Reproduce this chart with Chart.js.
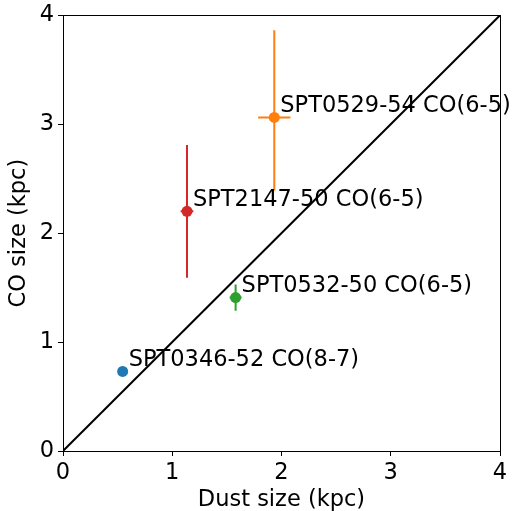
<!DOCTYPE html>
<html>
<head>
<meta charset="utf-8">
<script src="https://cdn.jsdelivr.net/npm/chart.js@4"></script>
<style>
html,body{margin:0;padding:0;background:#fff;}
#wrap{width:513px;height:511px;position:relative;}
</style>
</head>
<body>
<div id="wrap"><canvas id="c"></canvas></div>
<script>
const names = ["SPT0346-52 CO(8-7)", "SPT0532-50 CO(6-5)", "SPT2147-50 CO(6-5)", "SPT0529-54 CO(6-5)"];
const dustSize = [0.546, 1.58, 1.135, 1.934];
const coSize = [0.73, 1.408, 2.20, 3.062];
const dustErr = [0.0, 0.055, 0.058, 0.148];
const coErrLow = [0.0, 0.12, 0.61, 0.67];
const coErrHigh = [0.0, 0.12, 0.61, 0.80];
const colors = ["#1f77b4", "#2ca02c", "#d62728", "#ff7f0e"];
const xTicks = [0, 1, 2, 3, 4];
const yTicks = [0, 1, 2, 3, 4];
const oneToOne = [{x:0, y:0}, {x:4, y:4}];

const FONT = "'DejaVu Sans', sans-serif";
const FS = 22.5;

const errPlugin = {
  id: 'errbars',
  beforeDatasetsDraw(chart) {
    const ctx = chart.ctx, xs = chart.scales.x, ys = chart.scales.y;
    ctx.save();
    ctx.lineWidth = 2;
    for (let i = 0; i < dustSize.length; i++) {
      ctx.strokeStyle = colors[i];
      const px = xs.getPixelForValue(dustSize[i]);
      const py = ys.getPixelForValue(coSize[i]);
      ctx.beginPath();
      ctx.moveTo(xs.getPixelForValue(dustSize[i] - dustErr[i]), py);
      ctx.lineTo(xs.getPixelForValue(dustSize[i] + dustErr[i]), py);
      ctx.moveTo(px, ys.getPixelForValue(coSize[i] - coErrLow[i]));
      ctx.lineTo(px, ys.getPixelForValue(coSize[i] + coErrHigh[i]));
      ctx.stroke();
    }
    ctx.restore();
  },
  afterDatasetsDraw(chart) {
    const ctx = chart.ctx, xs = chart.scales.x, ys = chart.scales.y;
    const a = chart.chartArea;
    ctx.save();
    ctx.fillStyle = '#000';
    ctx.font = FS + 'px ' + FONT;
    ctx.textBaseline = 'middle';
    ctx.textAlign = 'left';
    for (let i = 0; i < names.length; i++) {
      const px = xs.getPixelForValue(dustSize[i]);
      const py = ys.getPixelForValue(coSize[i]);
      ctx.fillText(names[i], px + 6, py - 11);
    }
    ctx.strokeStyle = '#000';
    ctx.lineWidth = 1;
    ctx.strokeRect(Math.round(a.left) + 0.5, Math.round(a.top) + 0.5, Math.round(a.right - a.left), Math.round(a.bottom - a.top));
    ctx.restore();
  }
};

new Chart(document.getElementById('c'), {
  type: 'scatter',
  data: {
    datasets: [
      {
        type: 'line',
        data: oneToOne,
        borderColor: '#000',
        borderWidth: 2,
        pointRadius: 0,
        fill: false,
        order: 2
      },
      {
        data: dustSize.map((v, i) => ({x: v, y: coSize[i]})),
        backgroundColor: colors,
        borderColor: colors,
        pointRadius: 5.5,
        pointBorderWidth: 0,
        order: 1
      }
    ]
  },
  options: {
    responsive: true,
    maintainAspectRatio: false,
    animation: false,
    layout: {padding: {left: 0, right: 13, top: 14, bottom: 0}},
    plugins: {legend: {display: false}, tooltip: {enabled: false}},
    scales: {
      x: {
        type: 'linear', min: 0, max: 4,
        afterBuildTicks: s => { s.ticks = xTicks.map(v => ({value: v})); },
        afterFit: s => { s.height = 60; },
        ticks: {color: '#000', font: {family: FONT, size: FS}, padding: 4, maxRotation: 0},
        grid: {drawOnChartArea: false, drawTicks: true, tickLength: 5, color: '#000', lineWidth: 1},
        border: {display: true, color: '#000', width: 1},
        title: {display: true, text: 'Dust size (kpc)', color: '#000', font: {family: FONT, size: FS, lineHeight: 1}, padding: {top: 0, bottom: 0}}
      },
      y: {
        type: 'linear', min: 0, max: 4,
        afterBuildTicks: s => { s.ticks = yTicks.map(v => ({value: v})); },
        afterFit: s => { s.width = 63; },
        ticks: {color: '#000', font: {family: FONT, size: FS, lineHeight: 1}, padding: 4},
        grid: {drawOnChartArea: false, drawTicks: true, tickLength: 5, color: '#000', lineWidth: 1},
        border: {display: true, color: '#000', width: 1},
        title: {display: true, text: 'CO size (kpc)', color: '#000', font: {family: FONT, size: FS}, padding: {top: 6, bottom: 0}}
      }
    }
  },
  plugins: [errPlugin]
});
</script>
</body>
</html>
